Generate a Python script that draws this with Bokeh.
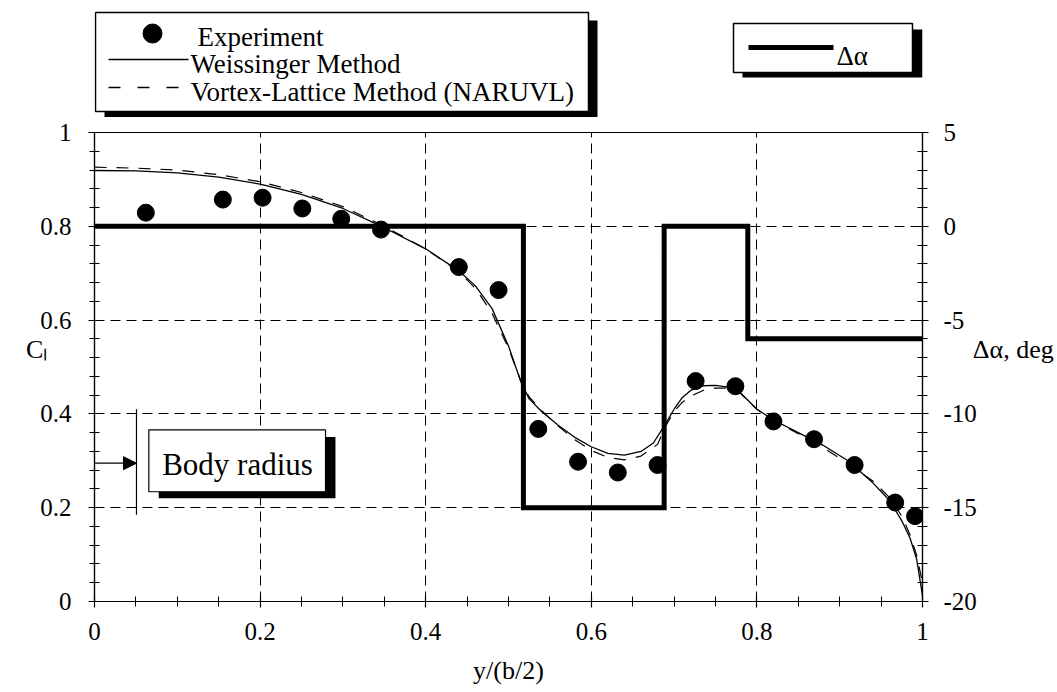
import numpy as np
from bokeh.plotting import figure
from bokeh.layouts import column
from bokeh.models import (Range1d, LinearAxis, FixedTicker, CustomJSTickFormatter,
                          Label, Arrow, NormalHead)
from bokeh.embed import file_html
from bokeh.resources import INLINE
from bokeh.core.properties import value

FONT = "Liberation Serif"

# ---------------- data ----------------
exp_x = [0.062, 0.155, 0.203, 0.251, 0.298, 0.346, 0.440, 0.488, 0.536, 0.584,
         0.632, 0.680, 0.726, 0.774, 0.820, 0.869, 0.918, 0.967, 0.991]
exp_cl = [0.829, 0.857, 0.861, 0.838, 0.816, 0.793, 0.713, 0.664, 0.368, 0.298,
          0.275, 0.291, 0.470, 0.459, 0.384, 0.346, 0.291, 0.211, 0.182]

weis_x = [0.0, 0.05, 0.10, 0.15, 0.20, 0.25, 0.30, 0.35, 0.40, 0.44, 0.46, 0.48,
          0.50, 0.515, 0.525, 0.54, 0.56, 0.58, 0.60, 0.62, 0.64, 0.66, 0.675,
          0.69, 0.70, 0.71, 0.72, 0.735, 0.75, 0.765, 0.78, 0.80, 0.82, 0.85,
          0.88, 0.91, 0.94, 0.96, 0.975, 0.985, 0.993, 1.0]
weis_cl = [0.919, 0.918, 0.914, 0.905, 0.890, 0.868, 0.838, 0.797, 0.752, 0.705,
           0.673, 0.625, 0.545, 0.468, 0.432, 0.405, 0.376, 0.350, 0.330, 0.316,
           0.312, 0.320, 0.338, 0.380, 0.410, 0.435, 0.450, 0.460, 0.461, 0.457,
           0.445, 0.410, 0.387, 0.360, 0.333, 0.300, 0.253, 0.216, 0.172, 0.135,
           0.090, 0.012]

vlm_x = [0.0, 0.05, 0.10, 0.15, 0.20, 0.25, 0.30, 0.35, 0.40, 0.44, 0.46, 0.48,
         0.50, 0.515, 0.525, 0.54, 0.56, 0.58, 0.60, 0.62, 0.64, 0.66, 0.68,
         0.69, 0.70, 0.71, 0.72, 0.735, 0.75, 0.765, 0.78, 0.80, 0.82, 0.85,
         0.88, 0.91, 0.94, 0.96, 0.975, 0.985, 0.993, 1.0]
vlm_cl = [0.926, 0.924, 0.920, 0.910, 0.895, 0.872, 0.842, 0.800, 0.752, 0.703,
          0.668, 0.615, 0.540, 0.470, 0.436, 0.407, 0.374, 0.345, 0.322, 0.307,
          0.302, 0.310, 0.335, 0.375, 0.405, 0.425, 0.438, 0.450, 0.455, 0.455,
          0.444, 0.410, 0.386, 0.358, 0.328, 0.294, 0.257, 0.222, 0.182, 0.142,
          0.098, 0.040]

# twist distribution (step, value held until next break)
da_x = [0.0, 0.518, 0.688, 0.789, 1.0]
da_deg = [0, -15, 0, -6, -6]

x_ticks = [0, 0.2, 0.4, 0.6, 0.8, 1.0]
cl_ticks = [0, 0.2, 0.4, 0.6, 0.8, 1.0]
da_ticks = [-20, -15, -10, -5, 0, 5]
x_minor = list(np.round(np.arange(0, 1.0001, 0.05), 3))
cl_minor = list(np.round(np.arange(0, 1.0001, 0.04), 3))
da_minor = list(range(-20, 6))

legend_labels = ["Experiment", "Weissinger Method", "Vortex-Lattice Method (NARUVL)"]

# ---------------- layout constants (page pixels) ----------------
W, H = 1057, 692
FL, FR, FT, FB = 94, 922, 132, 601   # main frame edges
TOP_H = 117                          # height of the legend strip

# ---------------- legend strip ----------------
# (its frame is aligned by the column layout to the main frame: x 94..922)
top = figure(width=W, height=TOP_H, x_range=Range1d(FL, FR), y_range=Range1d(TOP_H, 0),
             toolbar_location=None, output_backend="svg", min_border=0,
             x_axis_location=None, y_axis_location=None, outline_line_color=None)
top.grid.visible = False

top.quad(left=104, right=597, top=20, bottom=117, fill_color="black", line_color=None)
top.quad(left=95, right=588, top=12, bottom=111, fill_color="white",
         line_color="black", line_width=1.5)
top.scatter([152], [33], size=19, color="black")
top.line([108, 188], [59, 59], line_color="black", line_width=1.3)
top.line([108, 188], [87, 87], line_color="black", line_width=1.3, line_dash="12 17")
top.text(x=[197, 190, 190], y=[36, 63, 91], text=legend_labels,
         text_font=value(FONT), text_font_size="27px", text_color="black",
         text_baseline="alphabetic", text_align="left")

top.quad(left=742, right=922, top=29, bottom=77, fill_color="black", line_color=None)
top.quad(left=733, right=912, top=23, bottom=72, fill_color="white",
         line_color="black", line_width=1.5)
top.line([748, 833], [47, 47], line_color="black", line_width=5)
top.text(x=[836], y=[55], text=["Δα"], text_font=value(FONT), text_font_size="27px",
         text_color="black", text_baseline="alphabetic", text_align="left")

# ---------------- main plot ----------------
p = figure(width=W, height=H - TOP_H, x_range=Range1d(0, 1), y_range=Range1d(0, 1),
           toolbar_location=None, output_backend="svg",
           min_border_left=FL, min_border_right=W - FR, min_border_top=FT - TOP_H,
           min_border_bottom=H - FB,
           outline_line_color="black", outline_line_width=1.2)
p.extra_y_ranges = {"da": Range1d(-20, 5)}

right_ax = LinearAxis(y_range_name="da")
p.add_layout(right_ax, "right")

p.xaxis.ticker = FixedTicker(ticks=x_ticks, minor_ticks=x_minor)
p.yaxis[0].ticker = FixedTicker(ticks=cl_ticks, minor_ticks=cl_minor)
right_ax.ticker = FixedTicker(ticks=da_ticks, minor_ticks=da_minor)

p.xaxis.formatter = CustomJSTickFormatter(code="return String(Math.round(tick*100)/100);")
p.yaxis[0].formatter = CustomJSTickFormatter(code="return String(Math.round(tick*100)/100);")
right_ax.formatter = CustomJSTickFormatter(code="return tick.toFixed(0);")

for ax in [p.xaxis[0], p.yaxis[0], right_ax]:
    ax.axis_line_color = "black"
    ax.axis_line_width = 1.2
    ax.major_tick_line_color = "black"
    ax.major_tick_line_width = 1.2
    ax.major_tick_in = 6
    ax.major_tick_out = 6
    ax.minor_tick_line_color = "black"
    ax.minor_tick_line_width = 1
    ax.minor_tick_in = 5
    ax.minor_tick_out = 5
    ax.major_label_text_font = FONT
    ax.major_label_text_font_size = "25px"
    ax.major_label_text_color = "black"
    ax.axis_label_text_font = FONT
    ax.axis_label_text_font_size = "26px"
    ax.axis_label_text_font_style = "normal"
    ax.axis_label_text_color = "black"

# bottom axis
p.xaxis.major_label_standoff = 15
p.xaxis.axis_label = "y/(b/2)"
p.xaxis.axis_label_standoff = 13

# left axis: horizontal title beside the tick labels (a trailing blank line lifts it a little)
p.yaxis[0].major_label_standoff = 17
p.yaxis[0].axis_label = "Cₗ\n"
p.yaxis[0].axis_label_orientation = "horizontal"
p.yaxis[0].axis_label_standoff = -10

# right axis
right_ax.major_label_standoff = 15
right_ax.axis_label = "Δα, deg\n"
right_ax.axis_label_orientation = "horizontal"
right_ax.axis_label_standoff = -7

p.xgrid.ticker = FixedTicker(ticks=x_ticks)
p.ygrid.ticker = FixedTicker(ticks=cl_ticks)
for g in [p.xgrid[0], p.ygrid[0]]:
    g.grid_line_color = "black"
    g.grid_line_width = 1
    g.grid_line_dash = "10 6"

# body radius annotation
p.quad(left=0.0776, right=0.291, top=0.351, bottom=0.220, fill_color="black", line_color=None)
p.quad(left=0.0656, right=0.279, top=0.366, bottom=0.234, fill_color="white",
       line_color="black", line_width=1.2)
p.add_layout(Label(x=0.0817, y=0.292, text="Body radius", text_font=FONT,
                   text_font_size="31px", text_color="black", text_baseline="alphabetic",
                   text_align="left"))
p.segment(x0=[0.0507], y0=[0.185], x1=[0.0507], y1=[0.41], line_color="black", line_width=1.2)
p.add_layout(Arrow(end=NormalHead(size=13, fill_color="black", line_color="black"),
                   x_start=0.0, y_start=0.295, x_end=0.0507, y_end=0.295,
                   line_color="black", line_width=1.2))

# data series
p.step(da_x, da_deg, mode="after", y_range_name="da", line_color="black",
       line_width=5, line_join="miter")
p.line(weis_x, weis_cl, line_color="black", line_width=1.3)
p.line(vlm_x, vlm_cl, line_color="black", line_width=1.2, line_dash="12 10")
p.scatter(exp_x, exp_cl, size=17, color="black")

layout = column(top, p, spacing=0)
open("out.html", "w").write(file_html(layout, INLINE, title="Cl distribution"))
